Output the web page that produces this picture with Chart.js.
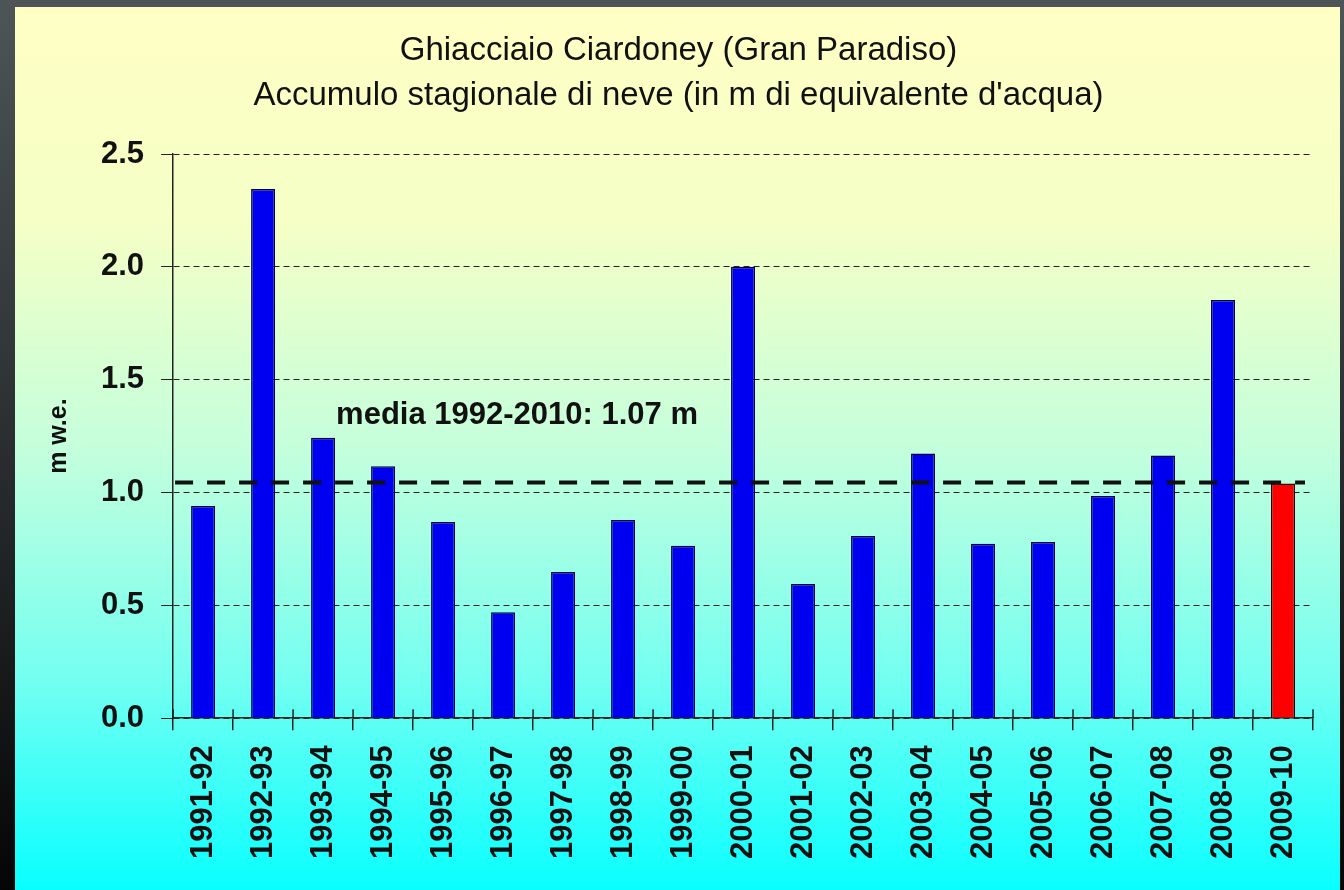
<!DOCTYPE html>
<html>
<head>
<meta charset="utf-8">
<script src="https://cdn.jsdelivr.net/npm/chart.js@4.4.0/dist/chart.umd.min.js"></script>
<style>
	html, body { margin: 0; padding: 0; background: #222; }
	#wrap { width: 1344px; height: 890px; }
</style>
</head>
<body>
<div id="wrap"><canvas id="accumChart" width="1344" height="890"></canvas></div>
<script>
"use strict";

// Data (m w.e.)
const seasons = [
	"1991-92", "1992-93", "1993-94", "1994-95", "1995-96", "1996-97", "1997-98",
	"1998-99", "1999-00", "2000-01", "2001-02", "2002-03", "2003-04", "2004-05",
	"2005-06", "2006-07", "2007-08", "2008-09", "2009-10",
];
const accumulation = [
	0.94, 2.345, 1.243, 1.117, 0.87, 0.47, 0.648,
	0.878, 0.764, 2.0, 0.595, 0.808, 1.173, 0.773,
	0.781, 0.985, 1.164, 1.853, 1.04,
];
const meanLineValue = 1.045;
const meanLabel = "media 1992-2010: 1.07 m";
const titleLines = [
	"Ghiacciaio Ciardoney (Gran Paradiso)",
	"Accumulo stagionale di neve (in m di equivalente d'acqua)",
];
const yAxisLabel = "m w.e.";

const FONT = "'Liberation Sans', Arial, sans-serif";

// dark frame + yellow-to-cyan panel
const backgroundPlugin = {
	id: "panelBackground",
	beforeDraw(chart) {
		let ctx = chart.ctx;
		let w = chart.width, h = chart.height;
		ctx.save();
		let frame = ctx.createLinearGradient(0, 0, 0, h);
		frame.addColorStop(0, "#4d5557");
		frame.addColorStop(0.5, "#2a2e30");
		frame.addColorStop(1, "#050505");
		ctx.fillStyle = frame;
		ctx.fillRect(0, 0, w, h);
		let panel = ctx.createLinearGradient(0, 7, 0, h);
		panel.addColorStop(0, "#ffffc4");
		panel.addColorStop(0.25, "#f4ffc6");
		panel.addColorStop(0.5, "#c4ffdc");
		panel.addColorStop(0.75, "#78fff0");
		panel.addColorStop(1, "#08ffff");
		ctx.fillStyle = panel;
		ctx.fillRect(15, 7, w - 19, h - 7);
		ctx.restore();
	},
};

// mean line, its label and the upper half of the category ticks
const meanPlugin = {
	id: "meanLine",
	afterDatasetsDraw(chart) {
		let ctx = chart.ctx;
		let area = chart.chartArea;
		let x = chart.scales.x;
		let y = chart.scales.y;
		let py = y.getPixelForValue(meanLineValue);
		ctx.save();
		ctx.strokeStyle = "#111";
		ctx.lineWidth = 4;
		ctx.setLineDash([18, 14]);
		ctx.beginPath();
		ctx.moveTo(area.left + 2, py);
		ctx.lineTo(area.right - 8, py);
		ctx.stroke();

		ctx.setLineDash([]);
		ctx.lineWidth = 1.5;
		ctx.strokeStyle = "#222";
		let half = (x.getPixelForValue(1) - x.getPixelForValue(0)) / 2;
		for (let i = 0; i <= seasons.length; i++) {
			let px = i < seasons.length ? x.getPixelForValue(i) - half : area.right;
			ctx.beginPath();
			ctx.moveTo(px, area.bottom - 9);
			ctx.lineTo(px, area.bottom);
			ctx.stroke();
		}

		ctx.fillStyle = "#111";
		ctx.font = "bold 31px " + FONT;
		ctx.textBaseline = "middle";
		ctx.textAlign = "left";
		ctx.fillText(meanLabel, x.getPixelForValue(2) + 13, y.getPixelForValue(1.34));
		ctx.restore();
	},
};

let ctx = document.getElementById("accumChart").getContext("2d");
new Chart(ctx, {
	type: "bar",
	data: {
		labels: seasons,
		datasets: [
			{
				label: "Accumulo",
				data: accumulation,
				backgroundColor: seasons.map((s, i) => (i === seasons.length - 1 ? "#ff0000" : "#0000f0")),
				borderColor: seasons.map((s, i) => (i === seasons.length - 1 ? "#300000" : "#000040")),
				borderWidth: 1.5,
				barPercentage: 0.4,
				categoryPercentage: 1.0,
			},
		],
	},
	plugins: [backgroundPlugin, meanPlugin],
	options: {
		responsive: false,
		animation: false,
		layout: {
			padding: { left: 44, right: 31, top: 28, bottom: 16 },
		},
		plugins: {
			legend: { display: false },
			tooltip: { enabled: false },
			title: {
				display: true,
				text: titleLines,
				color: "#111",
				font: { family: FONT, size: 33, weight: "normal", lineHeight: 1.364 },
				padding: { top: 0, bottom: 36 },
			},
		},
		scales: {
			x: {
				offset: true,
				border: { display: true, color: "#222", width: 1.5 },
				grid: {
					offset: true,
					drawOnChartArea: false,
					drawTicks: true,
					tickLength: 12,
					color: "#222",
					lineWidth: 1.5,
				},
				ticks: {
					color: "#111",
					font: { family: FONT, size: 31, weight: "bold" },
					maxRotation: 90,
					minRotation: 90,
					padding: 15,
					autoSkip: false,
				},
			},
			y: {
				min: 0,
				max: 2.5,
				border: { display: true, color: "#222", width: 1.5, dash: [6, 4] },
				grid: {
					color: "#222",
					lineWidth: 1,
					tickLength: 12,
					tickBorderDash: [],
					tickColor: "#222",
					drawTicks: true,
				},
				ticks: {
					stepSize: 0.5,
					color: "#111",
					font: { family: FONT, size: 31, weight: "bold" },
					padding: 17,
					callback: (v) => Number(v).toFixed(1),
				},
				title: {
					display: true,
					text: yAxisLabel,
					color: "#111",
					font: { family: FONT, size: 25, weight: "bold" },
					padding: { top: 0, bottom: 10 },
				},
			},
		},
	},
});
</script>
</body>
</html>
